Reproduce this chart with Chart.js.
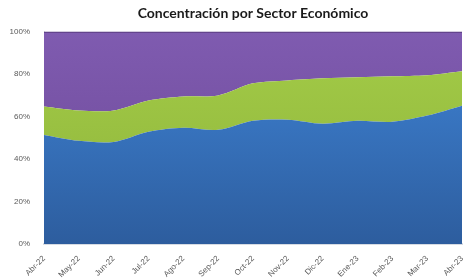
<!DOCTYPE html>
<html><head><meta charset="utf-8">
<script src="https://cdn.jsdelivr.net/npm/chart.js@4"></script>
<style>html,body{margin:0;padding:0;background:#fff}#w{width:464px;height:280px}</style>
</head><body><div id="w"><canvas id="c"></canvas></div>
<script>
const categories = ["Abr-22","May-22","Jun-22","Jul-22","Ago-22","Sep-22","Oct-22","Nov-22","Dic-22","Ene-23","Feb-23","Mar-23","Abr-23"];
const serieAzul = [51.4,48.6,48.1,52.9,54.8,53.8,58.1,58.6,56.7,58.1,57.6,60.5,65.2];
const serieVerde = [13.4,14.3,14.8,14.7,14.7,16.2,17.6,18.5,21.4,20.5,21.4,19.0,16.2];
const seriePurpura = [35.2,37.1,37.1,32.4,30.5,30.0,24.3,22.9,21.9,21.4,21.0,20.5,18.6];
const yTicks = [0,20,40,60,80,100];

function grad(ctx, top, bottom){
  const ch = ctx.chart; const a = ch.chartArea;
  if(!a) return bottom;
  const g = ch.ctx.createLinearGradient(0, a.top, 0, a.bottom);
  g.addColorStop(0, top); g.addColorStop(1, bottom); return g;
}
new Chart(document.getElementById('c'), {
  type: 'line',
  data: {
    labels: categories,
    datasets: [
      {data: serieAzul, fill: 'origin', backgroundColor: c=>grad(c,'#3f84d6','#2d5d9e'), borderWidth: 0, pointRadius: 0, tension: 0.3},
      {data: serieVerde, fill: '-1', backgroundColor: c=>grad(c,'#a4cc48','#8db33a'), borderWidth: 0, pointRadius: 0, tension: 0.3},
      {data: seriePurpura, fill: '-1', backgroundColor: c=>grad(c,'#7f5bb0','#6c4896'), borderColor: '#5a3d80', borderWidth: 2, pointRadius: 0, tension: 0.3}
    ]
  },
  options: {
    responsive: true, maintainAspectRatio: false, animation: false,
    layout: {padding: {left: 0, right: 2, top: 0, bottom: 0}},
    plugins: {
      legend: {display: false}, tooltip: {enabled: false},
      title: {display: true, fullSize: false, text: 'Concentración por Sector Económico', color: '#1a1a1a',
        font: {family: 'Lato', size: 14, weight: 'bold'}, padding: {top: 5, bottom: 10}}
    },
    scales: {
      x: {
        offset: false,
        grid: {display: false},
        border: {color: '#d6dbe3', width: 2},
        ticks: {color: '#595959', font: {family: 'Liberation Sans', size: 8}, maxRotation: 45, minRotation: 45, padding: 2, autoSkip: false},
        afterFit: s => { s.height = 36; s.paddingRight = 0; s.paddingLeft = 0; }
      },
      y: {
        stacked: true, min: 0, max: 100,
        grid: {display: false},
        border: {color: '#e0e0e0', width: 1},
        afterBuildTicks: s => { s.ticks = yTicks.map(v => ({value: v})); },
        ticks: {color: '#595959', font: {family: 'Liberation Sans', size: 8}, padding: 6, callback: v => v + '%'},
        afterFit: s => { s.width = 44; }
      }
    }
  }
});
</script></body></html>
